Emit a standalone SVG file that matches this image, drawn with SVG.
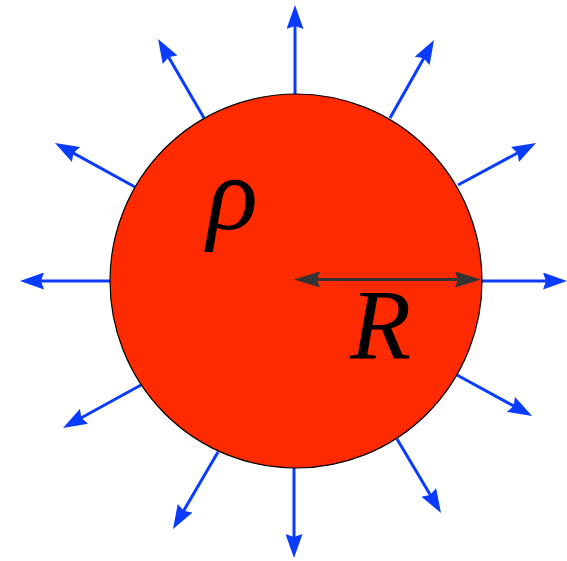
<svg xmlns="http://www.w3.org/2000/svg" width="567" height="561" viewBox="0 0 567 561">
<style>
.flux{stroke:#0A3CFF;stroke-width:3;fill:none;marker-end:url(#blueHead)}
.lbl{font-family:"Liberation Serif","Times New Roman",serif;font-style:italic;fill:#000}
</style>
<defs>
<marker id="blueHead" markerUnits="userSpaceOnUse" markerWidth="24" markerHeight="17" refX="4" refY="8.5" orient="auto" viewBox="0 0 24 17">
<path d="M0,0 L24,8.5 L0,17 L3,8.5 z" fill="#0A3CFF"/>
</marker>
<marker id="grayHead" markerUnits="userSpaceOnUse" markerWidth="26" markerHeight="16" refX="4" refY="8" orient="auto-start-reverse" viewBox="0 0 26 16">
<path d="M0,0 L26,8 L0,16 L3,8 z" fill="#333333"/>
</marker>
</defs>
<g id="connectors">
<line class="flux" x1="295" y1="94" x2="295" y2="25"/>
<line class="flux" x1="294" y1="468" x2="294" y2="538"/>
<line class="flux" x1="110" y1="281" x2="40" y2="281"/>
<line class="flux" x1="482" y1="281" x2="547" y2="281"/>
<line class="flux" x1="204" y1="118" x2="168.1" y2="56.3"/>
<line class="flux" x1="390" y1="118" x2="424.2" y2="57.4"/>
<line class="flux" x1="458" y1="185" x2="518.4" y2="152.5"/>
<line class="flux" x1="457" y1="375" x2="514.5" y2="406.4"/>
<line class="flux" x1="141" y1="385" x2="80.5" y2="418.3"/>
<line class="flux" x1="135" y1="187" x2="72.5" y2="152.6"/>
<line class="flux" x1="218" y1="452" x2="183.1" y2="511.7"/>
<line class="flux" x1="397" y1="439" x2="430.8" y2="495.8"/>
</g>
<g id="sphere">
<ellipse cx="296" cy="281" rx="186" ry="187" fill="#FF2A00" stroke="#000" stroke-width="1.2"/>
<text class="lbl" x="207" y="229" font-size="106">ρ</text>
</g>
<g id="radius">
<line x1="316" y1="279.5" x2="459" y2="279.5" stroke="#333333" stroke-width="3" marker-start="url(#grayHead)" marker-end="url(#grayHead)"/>
<text class="lbl" x="350" y="358" font-size="100">R</text>
</g>
</svg>
